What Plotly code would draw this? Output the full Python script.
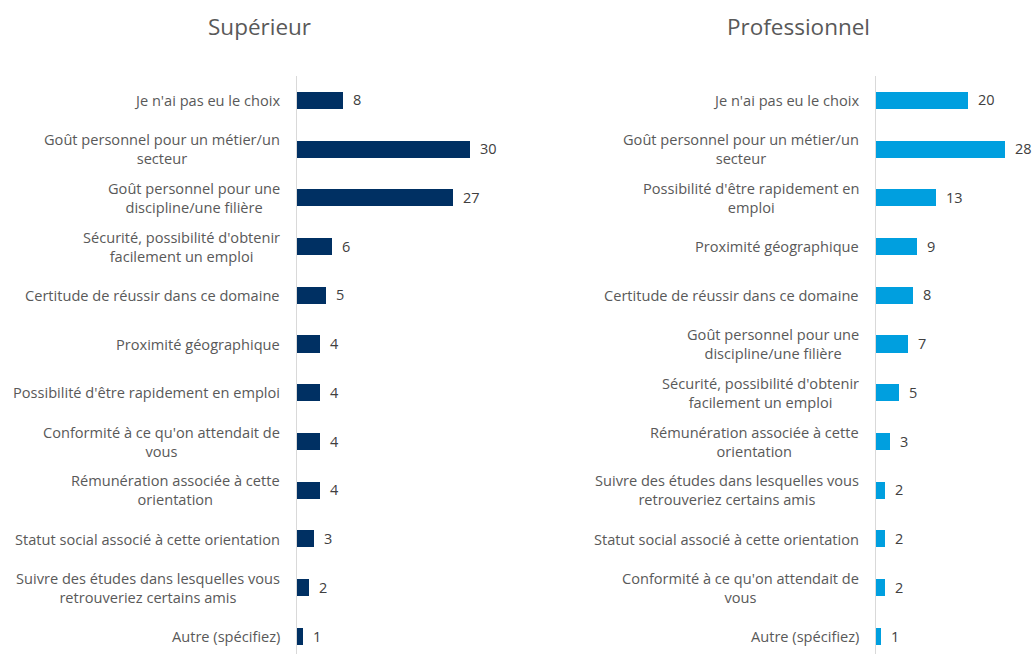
import plotly.graph_objects as go

# Superieur panel (top to bottom)
sup_labels = [
    "Je n'ai pas eu le choix",
    "Goût personnel pour un métier/un<br>secteur",
    "Goût personnel pour une<br>discipline/une filière",
    "Sécurité, possibilité d'obtenir<br>facilement un emploi",
    "Certitude de réussir dans ce domaine",
    "Proximité géographique",
    "Possibilité d'être rapidement en emploi",
    "Conformité à ce qu'on attendait de<br>vous",
    "Rémunération associée à cette<br>orientation",
    "Statut social associé à cette orientation",
    "Suivre des études dans lesquelles vous<br>retrouveriez certains amis",
    "Autre (spécifiez)",
]
sup_values = [8, 30, 27, 6, 5, 4, 4, 4, 4, 3, 2, 1]

# Professionnel panel (top to bottom)
pro_labels = [
    "Je n'ai pas eu le choix",
    "Goût personnel pour un métier/un<br>secteur",
    "Possibilité d'être rapidement en<br>emploi",
    "Proximité géographique",
    "Certitude de réussir dans ce domaine",
    "Goût personnel pour une<br>discipline/une filière",
    "Sécurité, possibilité d'obtenir<br>facilement un emploi",
    "Rémunération associée à cette<br>orientation",
    "Suivre des études dans lesquelles vous<br>retrouveriez certains amis",
    "Statut social associé à cette orientation",
    "Conformité à ce qu'on attendait de<br>vous",
    "Autre (spécifiez)",
]
pro_values = [20, 28, 13, 9, 8, 7, 5, 3, 2, 2, 2, 1]

panel_titles = ["Supérieur", "Professionnel"]

W, H = 1033, 654
FONT = "Open Sans, Calibri, sans-serif"
LABEL_COLOR = "#595959"
VALUE_COLOR = "#404040"
SUP_COLOR = "#003063"
PRO_COLOR = "#009FDF"
LABEL_SIZE = 14.6

fig = go.Figure()

fig.add_trace(go.Bar(
    x=sup_values, y=sup_labels, orientation="h",
    marker=dict(color=SUP_COLOR, line=dict(width=0)),
    width=0.35, xaxis="x", yaxis="y", hoverinfo="x+y",
))
fig.add_trace(go.Bar(
    x=pro_values, y=pro_labels, orientation="h",
    marker=dict(color=PRO_COLOR, line=dict(width=0)),
    width=0.35, xaxis="x2", yaxis="y2", hoverinfo="x+y",
))

y_top = 75.6
y_dom = [0, 1 - y_top / H]
row_px = 48.73
y_range = [-0.5 + (H - y_top) / row_px, -0.5]

axis_common = dict(showgrid=False, zeroline=False, showticklabels=False, ticks="")

fig.update_layout(
    width=W, height=H,
    margin=dict(l=0, r=0, t=0, b=0),
    paper_bgcolor="white", plot_bgcolor="white",
    showlegend=False,
    bargap=0,
    font=dict(family=FONT, size=LABEL_SIZE, color=LABEL_COLOR),
    xaxis=dict(domain=[297 / W, 499 / W], range=[0, 35], anchor="y", **axis_common),
    yaxis=dict(domain=y_dom, range=y_range, anchor="x", type="category",
               categoryorder="array", categoryarray=sup_labels,
               showline=True, linecolor="#D9D9D9", linewidth=1, **axis_common),
    xaxis2=dict(domain=[876 / W, 1028 / W], range=[0, 33], anchor="y2", **axis_common),
    yaxis2=dict(domain=y_dom, range=y_range, anchor="x2", type="category",
                categoryorder="array", categoryarray=pro_labels,
                showline=True, linecolor="#D9D9D9", linewidth=1, **axis_common),
)

annotations = []
for labels, values, xr, yr in [(sup_labels, sup_values, "x", "y"),
                               (pro_labels, pro_values, "x2", "y2")]:
    for lab, val in zip(labels, values):
        # category label, centred lines, right edge near the axis
        annotations.append(dict(
            text=lab, xref=f"{xr} domain", yref=yr, x=0, y=lab,
            xanchor="right", yanchor="middle", align="center",
            xshift=-15, showarrow=False,
            font=dict(family=FONT, size=LABEL_SIZE, color=LABEL_COLOR),
        ))
        # value label just past the bar end
        annotations.append(dict(
            text=str(val), xref=xr, yref=yr, x=val, y=lab,
            xanchor="left", yanchor="middle", xshift=8, showarrow=False,
            font=dict(family=FONT, size=14.5, color=VALUE_COLOR),
        ))

for title, cx in zip(panel_titles, [259, 798]):
    annotations.append(dict(
        text=title, xref="paper", yref="paper", x=cx / W, y=1 - 27 / H,
        xanchor="center", yanchor="middle", showarrow=False,
        font=dict(family=FONT, size=22.5, color=LABEL_COLOR),
    ))

fig.update_layout(annotations=annotations)

fig.write_html("out.html")
